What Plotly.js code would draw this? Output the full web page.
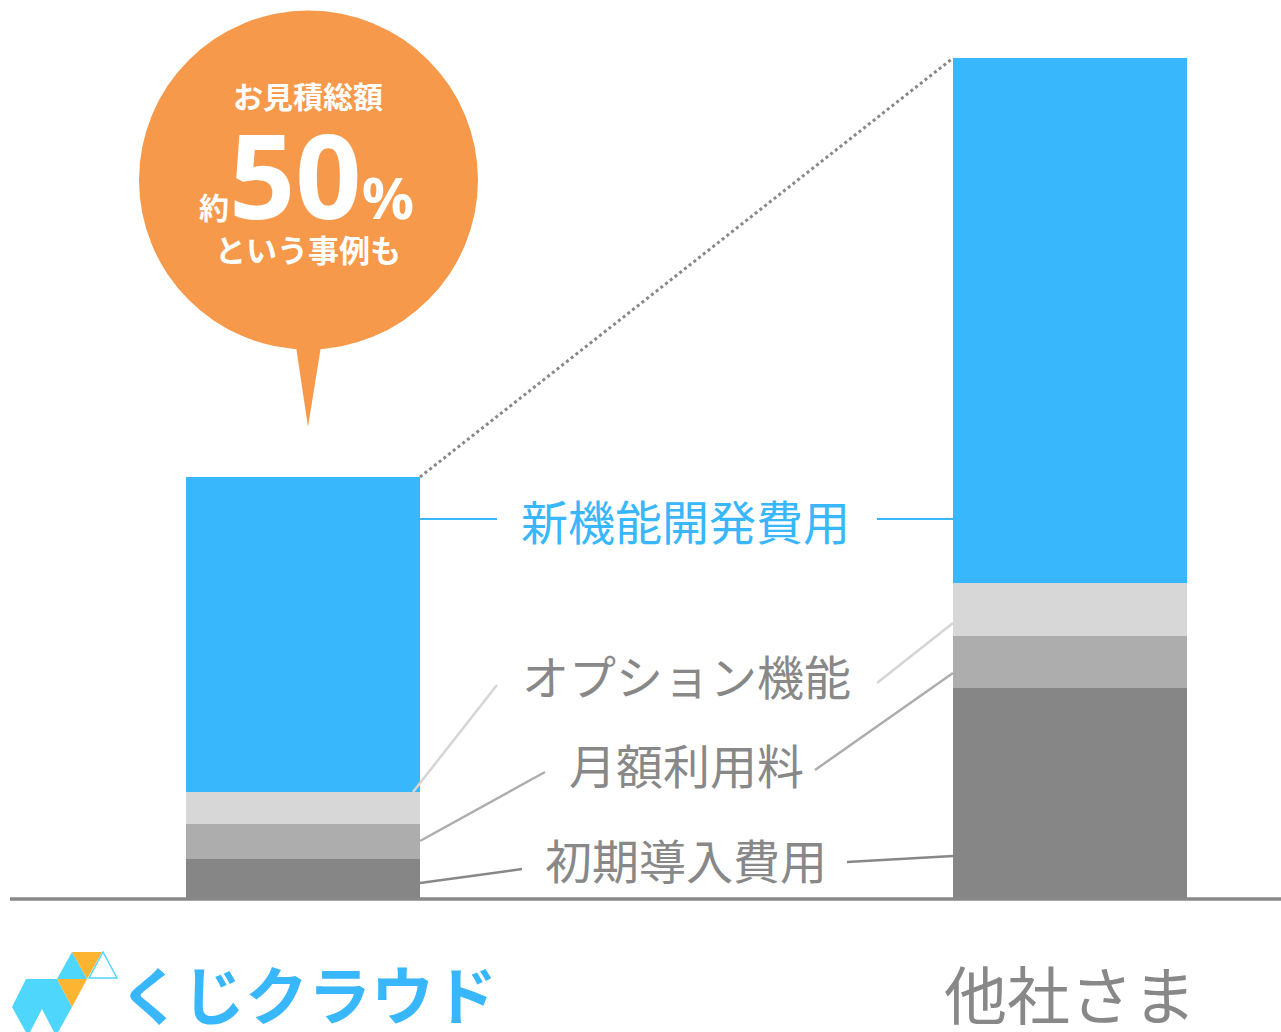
<!DOCTYPE html>
<html>
<head>
<meta charset="utf-8">
<script src="https://cdn.plot.ly/plotly-3.0.1.min.js"></script>
<style>html,body{margin:0;padding:0;background:#fff;overflow:hidden}#chart{width:1281px;height:1032px}</style>
</head>
<body>
<div id="chart"></div>
<script>
// ---- data ----
const categories = ['くじクラウド', '他社さま'];
const seriesNames = ['初期導入費用', '月額利用料', 'オプション機能', '新機能開発費用'];
const initialCost = [39, 210];
const monthlyFee = [35, 52];
const optionFeatures = [32, 53];
const newDevCost = [315, 525];
const seriesColors = ['#868686', '#adadad', '#d7d7d7', '#38b7fc'];
const bubbleHead = 'お見積総額';
const bubbleFoot = 'という事例も';

// ---- helpers (page pixel -> paper) ----
const W = 1281, H = 1032;
const px = x => x / W;
const py = y => 1 - y / H;
const BAR_W = 0.305;

const seriesValues = [initialCost, monthlyFee, optionFeatures, newDevCost];
const traces = seriesNames.map((n, i) => ({
  type: 'bar', name: n, x: categories, y: seriesValues[i], width: BAR_W,
  marker: {color: seriesColors[i], line: {width: 0}}, hoverinfo: 'name+y'
}));

const totals = categories.map((c, k) => seriesValues.reduce((s, a) => s + a[k], 0));

function seg(x0, y0, x1, y1, color, w) {
  return {type: 'line', xref: 'paper', yref: 'paper', x0: px(x0), y0: py(y0), x1: px(x1), y1: py(y1),
    line: {color: color, width: w}};
}
function poly(pts, color, lineColor, lw) {
  const d = pts.map((p, i) => (i ? 'L' : 'M') + px(p[0]) + ',' + py(p[1])).join(' ') + ' Z';
  return {type: 'path', xref: 'paper', yref: 'paper', path: d, fillcolor: color,
    line: {color: lineColor || color, width: lw || 0}};
}

const ORANGE = '#f6994a', LB = '#4fd6fc', LO = '#fdb431';
const shapes = [
  // baseline
  {type: 'line', xref: 'paper', yref: 'paper', x0: px(10), x1: 1, y0: py(899), y1: py(899), line: {color: '#888', width: 3.5}},
  // dotted comparison line between bar tops
  {type: 'line', xref: 'x', yref: 'y', x0: 0 + BAR_W / 2, y0: totals[0], x1: 1 - BAR_W / 2, y1: totals[1],
    line: {color: '#888', width: 3, dash: 'dot'}},
  // connectors
  seg(420, 519, 497, 519, '#38b7fc', 2), seg(877, 519, 953, 519, '#38b7fc', 2),
  seg(497, 685, 413, 792, '#d5d5d5', 2.5), seg(877, 683, 953, 623, '#d5d5d5', 2.5),
  seg(545, 772, 420, 841, '#adadad', 2.5), seg(815, 770, 953, 673, '#adadad', 2.5),
  seg(522, 869, 420, 883, '#888888', 2.5), seg(847, 862, 953, 856, '#888888', 2.5),
  // bubble
  {type: 'circle', xref: 'paper', yref: 'paper', x0: px(139), x1: px(478), y0: py(349.5), y1: py(10.5),
    fillcolor: ORANGE, line: {width: 0}},
  poly([[295, 340], [308, 427], [322, 340]], ORANGE),
  // logo
  poly([[12, 1007], [26, 979], [57, 979], [72, 1007], [56, 1036], [42, 1009], [28, 1036]], LB),
  poly([[57, 979], [72, 952], [87, 979]], LB),
  poly([[72, 952], [102, 952], [87, 979]], LO),
  poly([[57, 979], [87, 979], [72, 1007]], LO),
  poly([[103, 952], [89, 978], [117, 978]], 'rgba(255,255,255,1)', LB, 1.5)
];

const JP = '"Noto Sans CJK JP", "Noto Sans", sans-serif';
function lab(text, x, y, size, color, bold) {
  return {xref: 'paper', yref: 'paper', x: px(x), y: py(y), xanchor: 'center', yanchor: 'middle',
    text: bold ? '<b>' + text + '</b>' : text, showarrow: false,
    font: {family: JP, size: size, color: color}};
}
const annotations = [
  lab(seriesNames[3], 685, 519, 47, '#38b7fc'),
  lab(seriesNames[2], 686, 674, 47, '#888'),
  lab(seriesNames[1], 686, 763, 47, '#888'),
  lab(seriesNames[0], 686, 858, 47, '#888'),
  lab(bubbleHead, 308, 95, 30, '#fff', true),
  {xref: 'paper', yref: 'paper', x: px(306), y: py(174), xanchor: 'center', yanchor: 'middle', showarrow: false,
    text: '<b><span style="font-size:30px">約</span><span style="font-size:116px">50</span><span style="font-size:58px">%</span></b>',
    font: {family: '"Noto Sans", "Noto Sans CJK JP", sans-serif', size: 58, color: '#fff'}},
  lab(bubbleFoot, 308, 249, 31, '#fff', true),
  {xref: 'x', yref: 'paper', x: categories[0], xshift: 5, y: py(991), xanchor: 'center', yanchor: 'middle',
    showarrow: false, text: '<b>' + categories[0] + '</b>', font: {family: JP, size: 63, color: '#38b7fc'}},
  {xref: 'x', yref: 'paper', x: categories[1], y: py(991), xanchor: 'center', yanchor: 'middle',
    showarrow: false, text: categories[1], font: {family: JP, size: 63, color: '#888'}}
];

const layout = {
  width: W, height: H, margin: {l: 0, r: 0, t: 0, b: 0, pad: 0},
  paper_bgcolor: '#fff', plot_bgcolor: '#fff', showlegend: false, barmode: 'stack',
  xaxis: {type: 'category', range: [-0.395, 1.275], showticklabels: false, showgrid: false,
    zeroline: false, showline: false, ticks: '', fixedrange: true},
  yaxis: {domain: [134 / H, 1], range: [0, 898], visible: false, fixedrange: true},
  shapes: shapes, annotations: annotations
};
Plotly.newPlot('chart', traces, layout, {displayModeBar: false, staticPlot: true});
</script>
</body>
</html>
